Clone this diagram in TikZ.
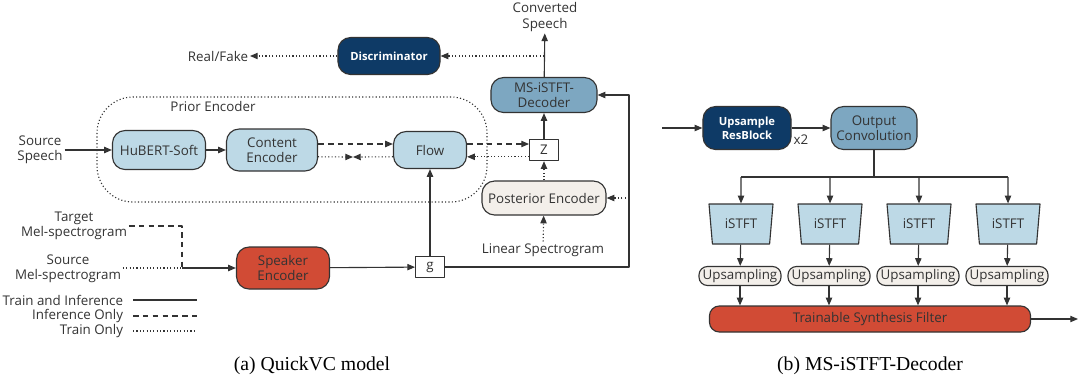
\documentclass[tikz,border=0pt]{standalone}
\usepackage{fontspec}
\setmainfont{Open Sans}
\newfontfamily\capfont{Liberation Serif}
\usetikzlibrary{positioning,shapes.geometric,arrows.meta}
\definecolor{navy}{HTML}{0E3A66}
\definecolor{midblue}{HTML}{7DA7C1}
\definecolor{lightblue}{HTML}{BDD9E6}
\definecolor{brick}{HTML}{D14B35}
\definecolor{cream}{HTML}{F3EFEA}
\definecolor{ink}{HTML}{333333}
\begin{document}
\begin{tikzpicture}[x=0.025cm,y=-0.025cm,>={Triangle[length=5.5pt,width=4.5pt]},line join=round,
	font=\fontsize{9.5}{11}\selectfont,color=ink,line width=0.8pt,
	blk/.style={draw=ink,line width=0.8pt,rounded corners=9pt,align=center,inner sep=0pt,text=ink},
	darkblk/.style={blk,fill=navy,text=white,font=\fontsize{8}{10}\selectfont\bfseries},
	sqbox/.style={draw=ink,line width=0.8pt,fill=white,inner sep=0pt,minimum width=0.72cm,minimum height=0.53cm},
	lbl/.style={align=center,text=ink,inner sep=1pt},
	dots/.style={dash pattern=on 0.8pt off 1.6pt},
	dashes/.style={dash pattern=on 4pt off 3pt},
	istft/.style={trapezium,shape border rotate=180,trapezium left angle=71,trapezium right angle=71,
		trapezium stretches body,draw=ink,line width=0.8pt,fill=lightblue,text=ink,
		minimum width=1.6cm,minimum height=1.0cm,inner sep=0pt},
	upbox/.style={blk,rounded corners=6pt,fill=cream,minimum width=2.05cm,minimum height=0.475cm},
	captxt/.style={font=\capfont\fontsize{14}{16}\selectfont,text=black}]
	\useasboundingbox (0,0) rectangle (1084,383);
	% (a) QuickVC
	\draw[dots,rounded corners=0.9cm] (97,97) rectangle (487,202);
	\node[lbl] (pe) at (213,106) {Prior Encoder};
	\node[darkblk,minimum width=2.55cm,minimum height=0.925cm] (disc) at (389,56) {Discriminator};
	\node[blk,fill=midblue,minimum width=2.65cm,minimum height=0.875cm] (msd) at (544,95) {MS-iSTFT-\\Decoder};
	\node[blk,fill=lightblue,minimum width=2.325cm,minimum height=0.975cm] (hub) at (159,150) {HuBERT-Soft};
	\node[blk,fill=lightblue,minimum width=2.275cm,minimum height=1.05cm] (ce) at (272,150) {Content\\Encoder};
	\node[blk,fill=lightblue,minimum width=1.825cm,minimum height=0.925cm] (flow) at (430,150) {Flow};
	\node[sqbox] (z) at (544,150) {Z};
	\node[blk,fill=cream,minimum width=3.1cm,minimum height=0.85cm] (post) at (544,198) {Posterior Encoder};
	\node[blk,fill=brick,minimum width=2.325cm,minimum height=1.05cm] (spk) at (283,268) {Speaker\\Encoder};
	\node[sqbox] (g) at (430,267) {g};
	\node[lbl] (rf) at (218,56) {Real/Fake};
	\node[lbl] (cs) at (545,17) {Converted\\Speech};
	\node[lbl] (ss) at (40,150) {Source\\Speech};
	\node[lbl] (lin) at (543,250) {Linear Spectrogram};
	\node[lbl] (tm) at (74,226) {Target\\Mel-spectrogram};
	\node[lbl] (sm) at (68,269) {Source\\Mel-spectrogram};
	\coordinate (bt) at (353,157);
	\coordinate (rc) at (629,95);
	\coordinate (mj) at (182,268);
	% connectors
	\draw[->] (ss.east) -- (hub.west);
	\draw[->] (hub) -- (ce);
	\draw[dashes,->] ([yshift=0.15cm]ce.east) -- ([yshift=0.15cm]flow.west);
	\draw[dots,->] ([yshift=-0.17cm]ce.east) -- (bt);
	\draw[dots,->] ([yshift=-0.17cm]flow.west) -- (bt);
	\draw[dashes,->] ([yshift=0.15cm]flow.east) -- ([yshift=0.15cm]z.west);
	\draw[dots,->] ([yshift=-0.17cm]z.west) -- ([yshift=-0.17cm]flow.east);
	\draw[->] (z) -- (msd);
	\draw[dots,->] (post) -- (z);
	\draw[dots,->] (lin) -- (post);
	\draw[->] (msd) -- (cs);
	\draw[dots,->] (msd.north |- disc) -- (disc);
	\draw[dots,->] (disc) -- (rf);
	\draw[->] (g) -- (flow);
	\draw[->] (spk) -- (g);
	\draw[->] (g.east) -| (rc) -- (msd.east);
	\draw[dots,->] (post.east -| rc) -- (post.east);
	\draw[dashes] (tm.east) -| (mj);
	\draw[dots] (sm.east |- mj) -- (mj);
	\draw[->] (mj) -- (spk);
	% legend
	\node[lbl,anchor=east] (l1) at (125,300) {Train and Inference};
	\node[lbl,anchor=east] (l2) at (125,316) {Inference Only};
	\node[lbl,anchor=east] (l3) at (125,331) {Train Only};
	\draw ([xshift=0.2cm]l1.east) -- ++(64,0);
	\draw[dashes] ([xshift=0.2cm]l2.east) -- ++(64,0);
	\draw[dots] ([xshift=0.2cm]l3.east) -- ++(64,0);
	\node[captxt] (capa) at (312,366) {(a) QuickVC model};
	% (b) MS-iSTFT-Decoder
	\node[darkblk,minimum width=2.2cm,minimum height=1.075cm] (urb) at (747,128) {Upsample\\ResBlock};
	\node[blk,fill=midblue,minimum width=2.15cm,minimum height=1.075cm] (oc) at (874,128) {Output\\Convolution};
	\node[blk,fill=brick,rounded corners=7pt,minimum width=8.025cm,minimum height=0.65cm] (tsf) at (870,319) {Trainable Synthesis Filter};
	\node[lbl] (x2) at (801,140) {x2};
	\coordinate (din) at (662,128);
	\coordinate (dout) at (1078,319);
	\coordinate (fan) at (874,177);
	\draw[->] (din) -- (urb);
	\draw[->] (urb) -- (oc);
	\draw (oc) -- (fan);
	\draw[->] (tsf) -- (dout);
	\foreach \i in {1,...,4}{
		\node[istft] (ist\i) at ({741+89*(\i-1)},224) {iSTFT};
		\node[upbox] (ups\i) at ({740+89*(\i-1)},276) {Upsampling};
		\draw[->] (ist\i |- fan) -- (ist\i);
		\draw[->] (ist\i) -- (ups\i);
		\draw[->] (ups\i) -- (ups\i |- tsf.north);
	}
	\draw (ist1 |- fan) -- (ist4 |- fan);
	\node[captxt] (capb) at (870,366) {(b) MS-iSTFT-Decoder};
\end{tikzpicture}
\end{document}
